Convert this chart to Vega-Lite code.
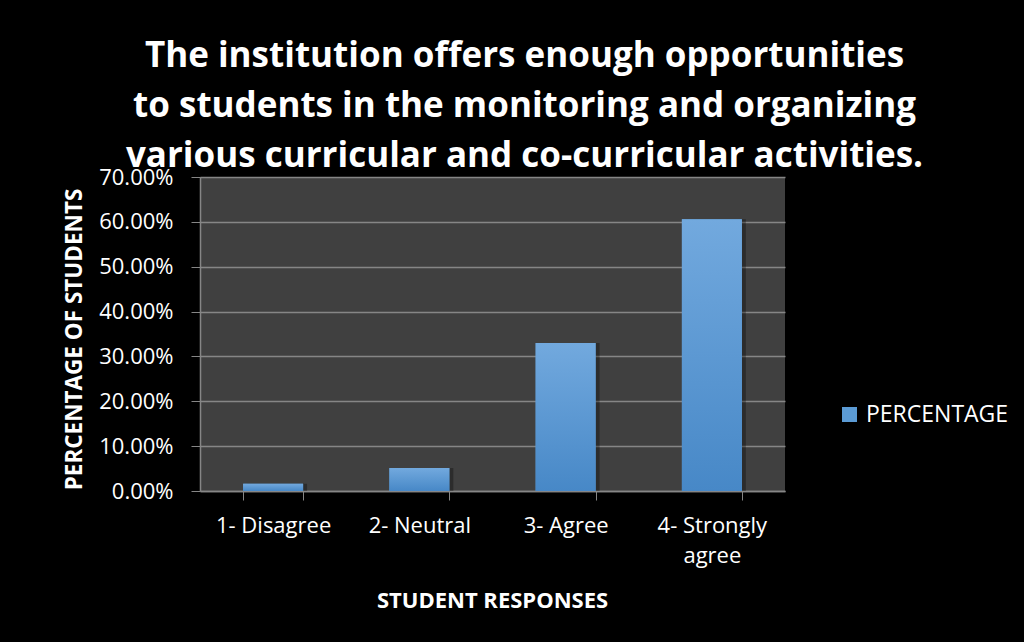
{
  "$schema": "https://vega.github.io/schema/vega-lite/v6.json",
  "autosize": {"type": "none"},
  "width": 585,
  "height": 314,
  "padding": {"left": 200, "top": 177, "right": 239, "bottom": 151},
  "background": "#000000",
  "title": {
    "text": ["The institution offers enough opportunities", "to students in the monitoring and organizing", "various curricular and co-curricular activities."],
    "font": "Open Sans",
    "fontSize": 35,
    "fontWeight": "bold",
    "color": "#ffffff",
    "anchor": "middle",
    "frame": "group",
    "dx": 32,
    "dy": 36,
    "lineHeight": 50,
    "baseline": "alphabetic",
    "offset": 0
  },
  "data": {
    "values": [
      {"response": "1- Disagree", "percentage": 0.016, "series": "PERCENTAGE"},
      {"response": "2- Neutral", "percentage": 0.051, "series": "PERCENTAGE"},
      {"response": "3- Agree", "percentage": 0.330, "series": "PERCENTAGE"},
      {"response": "4- Strongly agree", "percentage": 0.606, "series": "PERCENTAGE"}
    ]
  },
  "encoding": {
    "x": {
      "field": "response",
      "type": "nominal",
      "sort": null,
      "scale": {"paddingInner": 0.59, "paddingOuter": 0.295},
      "axis": {
        "title": "STUDENT RESPONSES",
        "titleFont": "Open Sans",
        "titleFontSize": 22,
        "titleFontWeight": "bold",
        "titleColor": "#ffffff",
        "titleX": 292,
        "titleY": 116,
        "titleAlign": "center",
        "titleBaseline": "alphabetic",
        "labelAngle": 0,
        "labelFont": "Open Sans",
        "labelFontSize": 22,
        "labelColor": "#ffffff",
        "labelPadding": 15,
        "labelLineHeight": 30,
        "labelExpr": "datum.value == '4- Strongly agree' ? ['4- Strongly', 'agree'] : datum.label",
        "tickBand": "extent",
        "tickSize": 9,
        "tickColor": "#868686",
        "domainColor": "#868686",
        "domainWidth": 1.5,
        "grid": false
      }
    },
    "y": {
      "field": "percentage",
      "type": "quantitative",
      "scale": {"domain": [0, 0.7], "nice": false},
      "axis": {
        "title": "PERCENTAGE OF STUDENTS",
        "titleFont": "Open Sans",
        "titleFontSize": 22.5,
        "titleFontWeight": "bold",
        "titleColor": "#ffffff",
        "titleX": -119,
        "titleY": 162,
        "titleAngle": -90,
        "titleAlign": "center",
        "titleBaseline": "alphabetic",
        "values": [0, 0.1, 0.2, 0.3, 0.4, 0.5, 0.6, 0.7],
        "format": ".2%",
        "labelFont": "Open Sans",
        "labelFontSize": 22,
        "labelColor": "#ffffff",
        "labelPadding": 18,
        "tickSize": 9,
        "tickColor": "#868686",
        "domainColor": "#868686",
        "domainWidth": 1.5,
        "gridColor": "#868686",
        "gridWidth": 1.5
      }
    }
  },
  "layer": [
    {
      "mark": {"type": "bar", "color": "#000000", "opacity": 0.3, "xOffset": 4}
    },
    {
      "mark": {"type": "bar"},
      "encoding": {
        "color": {
          "field": "series",
          "type": "nominal",
          "scale": {"range": ["#5b9bd5"]},
          "legend": {
            "title": null,
            "orient": "none",
            "legendX": 638,
            "legendY": 226,
            "symbolType": "square",
            "symbolSize": 225,
            "symbolStrokeWidth": 0,
            "labelFont": "Open Sans",
            "labelFontSize": 23,
            "labelColor": "#ffffff",
            "labelOffset": 5
          }
        }
      }
    },
    {
      "mark": {
        "type": "bar",
        "color": {
          "gradient": "linear",
          "x1": 0, "y1": 0, "x2": 0, "y2": 1,
          "stops": [
            {"offset": 0, "color": "#72a9de"},
            {"offset": 1, "color": "#4788c7"}
          ]
        }
      }
    }
  ],
  "config": {
    "view": {"fill": "#404040", "stroke": null}
  }
}
